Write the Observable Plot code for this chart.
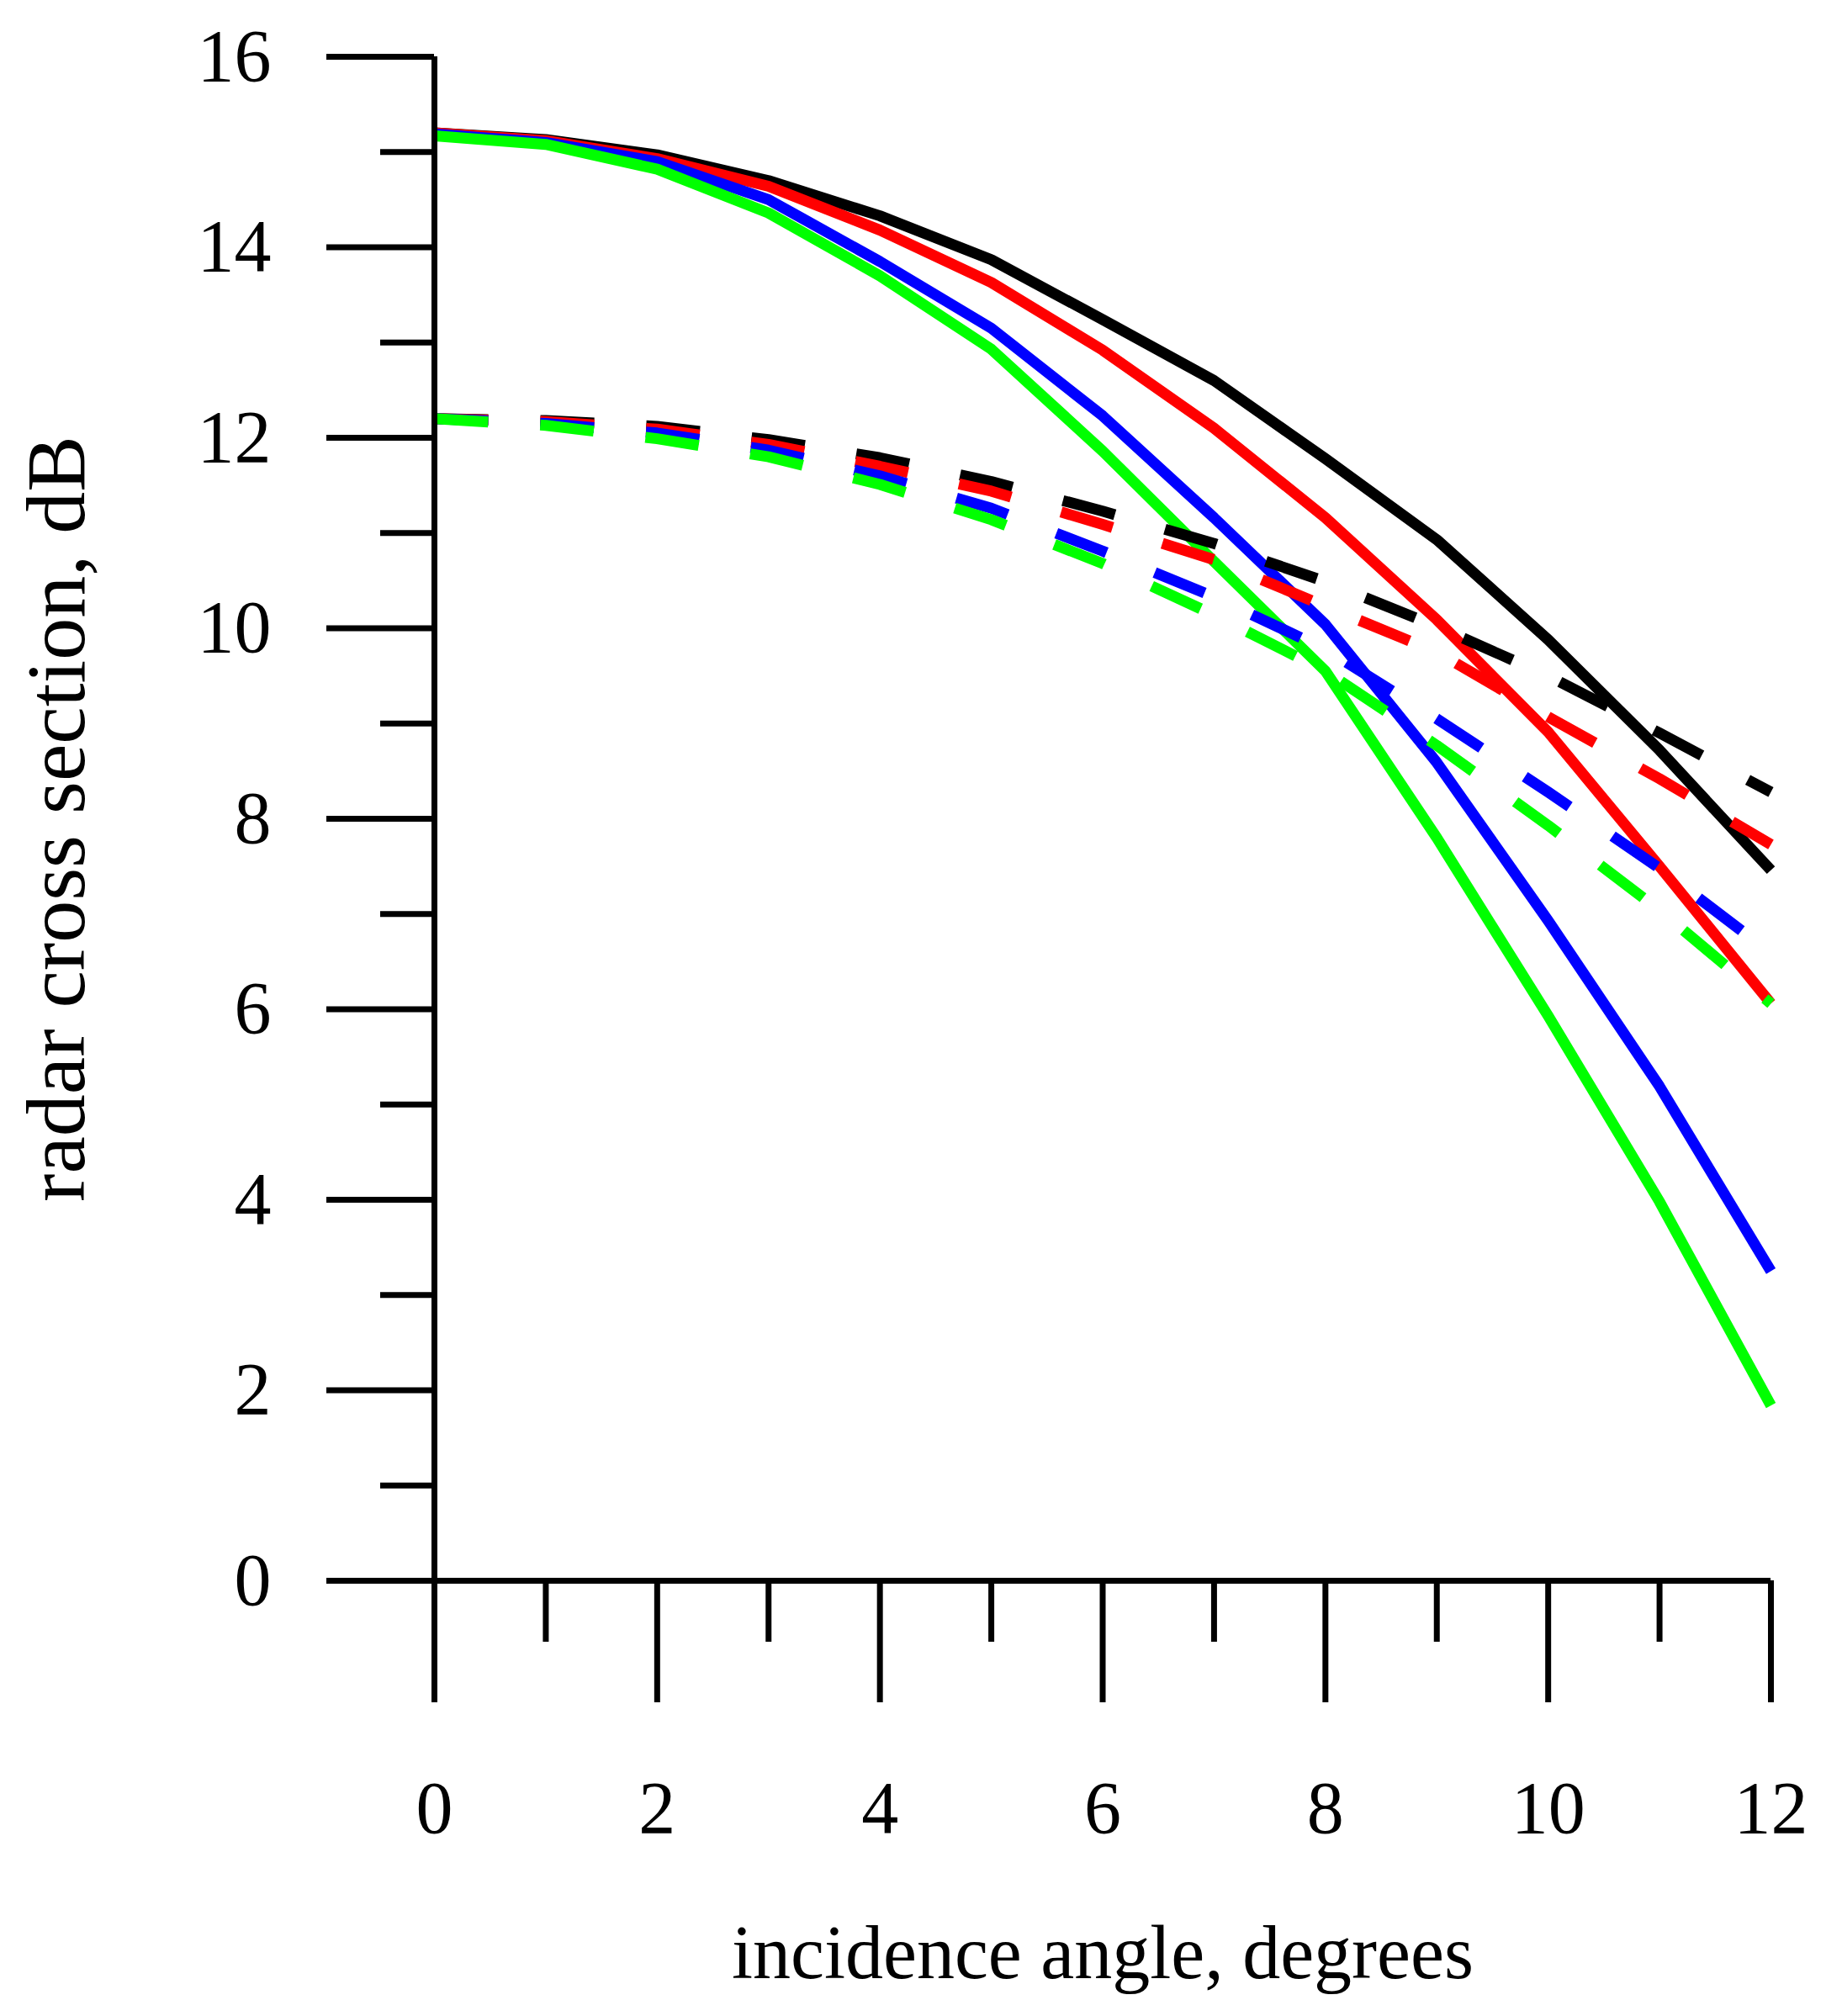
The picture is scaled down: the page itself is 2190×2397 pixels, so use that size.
<!DOCTYPE html>
<html>
<head>
<meta charset="utf-8">
<script src="https://cdn.jsdelivr.net/npm/d3@7"></script>
<script src="https://cdn.jsdelivr.net/npm/@observablehq/plot@0.6"></script>
<style>
  html, body { margin: 0; padding: 0; background: #ffffff; overflow: hidden; }
  #chart svg { display: block; }
  g[aria-label="x-axis label"] { font-size: 90px; }
  g[aria-label="y-axis label"] { font-size: 100px; }
</style>
</head>
<body>
<div id="chart"></div>
<script>
// incidence angle, degrees
const angles = [0, 1, 2, 3, 4, 5, 6, 7, 8, 9, 10, 11, 12];

// solid curves (radar cross section, dB)
const solidBlack = [15.20, 15.13, 14.97, 14.70, 14.33, 13.87, 13.24, 12.60, 11.78, 10.93, 9.88, 8.72, 7.46];
const solidRed   = [15.20, 15.12, 14.93, 14.64, 14.18, 13.63, 12.92, 12.10, 11.16, 10.09, 8.91, 7.50, 6.06];
const solidBlue  = [15.19, 15.10, 14.90, 14.50, 13.85, 13.15, 12.23, 11.16, 10.04, 8.59, 6.93, 5.19, 3.25];
const solidGreen = [15.17, 15.08, 14.82, 14.36, 13.70, 12.93, 11.86, 10.70, 9.55, 7.80, 5.93, 3.98, 1.84];

// dashed curves (radar cross section, dB)
const dashBlack = [12.20, 12.18, 12.12, 11.98, 11.79, 11.54, 11.23, 10.89, 10.49, 10.02, 9.50, 8.90, 8.28];
const dashRed   = [12.20, 12.17, 12.09, 11.93, 11.70, 11.44, 11.09, 10.72, 10.23, 9.75, 9.07, 8.42, 7.73];
const dashBlue  = [12.20, 12.15, 12.05, 11.87, 11.60, 11.26, 10.81, 10.33, 9.78, 9.05, 8.28, 7.48, 6.59];
const dashGreen = [12.20, 12.13, 11.99, 11.80, 11.51, 11.14, 10.68, 10.14, 9.55, 8.77, 7.93, 7.04, 6.06];

const seriesColors = ["#000000", "#ff0000", "#0000ff", "#00ff00"];
const solidSeries = [solidBlack, solidRed, solidBlue, solidGreen];
const dashSeries = [dashBlack, dashRed, dashBlue, dashGreen];

// tick values
const xMajorTicks = [0, 2, 4, 6, 8, 10, 12];
const xMinorTicks = [1, 3, 5, 7, 9, 11];
const yMajorTicks = [0, 2, 4, 6, 8, 10, 12, 14, 16];
const yMinorTicks = [1, 3, 5, 7, 9, 11, 13, 15];

const xLabel = "incidence angle, degrees";
const yLabel = "radar cross section, dB";

const toRows = (values) => angles.map((a, i) => ({angle: a, value: values[i]}));

const lineW = 13;
const axisW = 7;

const marks = [];
// solid lines first (black, red, blue, green)
solidSeries.forEach((vals, k) => {
  marks.push(Plot.line(toRows(vals), {
    x: "angle", y: "value", stroke: seriesColors[k], strokeWidth: lineW,
    strokeLinecap: "butt", strokeLinejoin: "round"
  }));
});
// dashed lines on top
dashSeries.forEach((vals, k) => {
  marks.push(Plot.line(toRows(vals), {
    x: "angle", y: "value", stroke: seriesColors[k], strokeWidth: lineW,
    strokeLinecap: "butt", strokeLinejoin: "round", strokeDasharray: "64,62"
  }));
});

// axis lines
marks.push(Plot.ruleY([0], {stroke: "#000", strokeWidth: axisW}));
marks.push(Plot.ruleX([0], {stroke: "#000", strokeWidth: axisW}));

// y axis ticks
marks.push(Plot.axisY({
  ticks: yMajorTicks, tickSize: 128, tickPadding: 66, strokeWidth: axisW,
  fontSize: 88, label: yLabel, labelAnchor: "center", labelArrow: "none",
  labelOffset: 488
}));
marks.push(Plot.axisY({
  ticks: yMinorTicks, tickSize: 64, strokeWidth: axisW,
  tickFormat: () => "", label: null
}));
// x axis ticks
marks.push(Plot.axisX({
  ticks: xMajorTicks, tickSize: 145, tickPadding: 92, strokeWidth: axisW,
  fontSize: 88, label: xLabel, labelAnchor: "center", labelArrow: "none",
  labelOffset: 472
}));
marks.push(Plot.axisX({
  ticks: xMinorTicks, tickSize: 73, strokeWidth: axisW,
  tickFormat: () => "", label: null
}));

const chart = Plot.plot({
  width: 2190,
  height: 2397,
  marginLeft: 516,
  marginRight: 85,
  marginTop: 67,
  marginBottom: 518,
  x: {domain: [0, 12]},
  y: {domain: [0, 16]},
  style: {
    fontFamily: "'Liberation Serif', 'Times New Roman', serif",
    background: "#ffffff",
    color: "#000000",
    overflow: "visible"
  },
  marks
});
document.getElementById("chart").appendChild(chart);
</script>
</body>
</html>
